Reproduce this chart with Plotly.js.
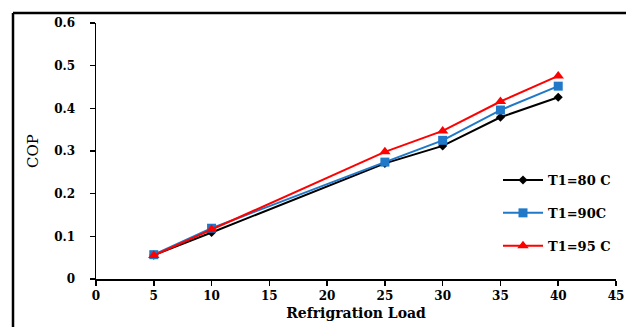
<!DOCTYPE html>
<html>
<head>
<meta charset="utf-8">
<script src="https://cdn.plot.ly/plotly-3.0.1.min.js"></script>
<style>
  html, body { margin: 0; padding: 0; background: #fff; }
  #chart { width: 626px; height: 327px; }
</style>
</head>
<body>
<div id="chart"></div>
<script>
// Refrigeration load (x) and COP for three generator temperatures
const load = [5, 10, 25, 30, 35, 40];
const copT80 = [0.056, 0.109, 0.271, 0.312, 0.379, 0.426];
const copT90 = [0.057, 0.119, 0.274, 0.325, 0.396, 0.452];
const copT95 = [0.055, 0.116, 0.298, 0.347, 0.416, 0.476];
const seriesNames = ['T1=80 C', 'T1=90C', 'T1=95 C'];

const W = 626, H = 327;
const margin = { l: 96, r: 10, t: 23, b: 48 };
const pw = W - margin.l - margin.r;
const ph = H - margin.t - margin.b;
// pixel -> paper helpers for the outer frame and legend
const px = x => (x - margin.l) / pw;
const py = y => (H - margin.b - y) / ph;

const serif = 'DejaVu Serif, serif';

const traces = [
  { x: load, y: copT80, name: seriesNames[0], legendgroup: 'a',
    mode: 'lines+markers', line: { color: '#000000', width: 2 },
    marker: { symbol: 'diamond', size: 7, color: '#000000' } },
  { x: load, y: copT90, name: seriesNames[1], legendgroup: 'b',
    mode: 'lines+markers', line: { color: '#1f78c8', width: 2 },
    marker: { symbol: 'square', size: 9, color: '#1f78c8' } },
  { x: load, y: copT95, name: seriesNames[2], legendgroup: 'c',
    mode: 'lines+markers', line: { color: '#ff0000', width: 2 },
    marker: { symbol: 'triangle-up', size: 10, color: '#ff0000' } }
];

const layout = {
  width: W, height: H,
  margin: margin,
  paper_bgcolor: '#ffffff',
  plot_bgcolor: '#ffffff',
  showlegend: true,
  legend: {
    x: px(498), y: py(165), xanchor: 'left', yanchor: 'top',
    bgcolor: 'rgba(0,0,0,0)',
    font: { family: serif, size: 13, color: '#000', weight: 'bold' },
    tracegroupgap: 13,
    itemwidth: 40
  },
  xaxis: {
    range: [0, 45], dtick: 5, tick0: 0,
    showgrid: false, zeroline: false,
    showline: true, linecolor: '#000', linewidth: 2,
    ticks: 'outside', ticklen: 5, tickwidth: 1.5, tickcolor: '#000',
    ticklabeloverflow: 'allow',
    tickfont: { family: serif, size: 12, color: '#000', weight: 'bold' },
    title: { text: 'Refrigration Load', standoff: 6,
             font: { family: serif, size: 14, color: '#000', weight: 'bold' } }
  },
  yaxis: {
    range: [0, 0.6], dtick: 0.1, tick0: 0,
    showgrid: false, zeroline: false,
    showline: true, linecolor: '#000', linewidth: 1.5,
    ticks: 'outside', ticklen: 5, tickwidth: 1.5, tickcolor: '#000',
    ticklabelstandoff: 12,
    tickfont: { family: serif, size: 12, color: '#000', weight: 'bold' },
    title: { text: 'COP', standoff: 12,
             font: { family: serif, size: 15, color: '#000' } }
  },
  shapes: [
    // outer frame (left and top edges)
    { type: 'line', xref: 'paper', yref: 'paper',
      x0: px(13), x1: px(13), y0: py(13), y1: py(340),
      line: { color: '#000', width: 2.5 } },
    { type: 'line', xref: 'paper', yref: 'paper',
      x0: px(13), x1: px(640), y0: py(13), y1: py(13),
      line: { color: '#000', width: 2.5 } }
  ]
};

Plotly.newPlot('chart', traces, layout, { displayModeBar: false, staticPlot: true });
</script>
</body>
</html>
